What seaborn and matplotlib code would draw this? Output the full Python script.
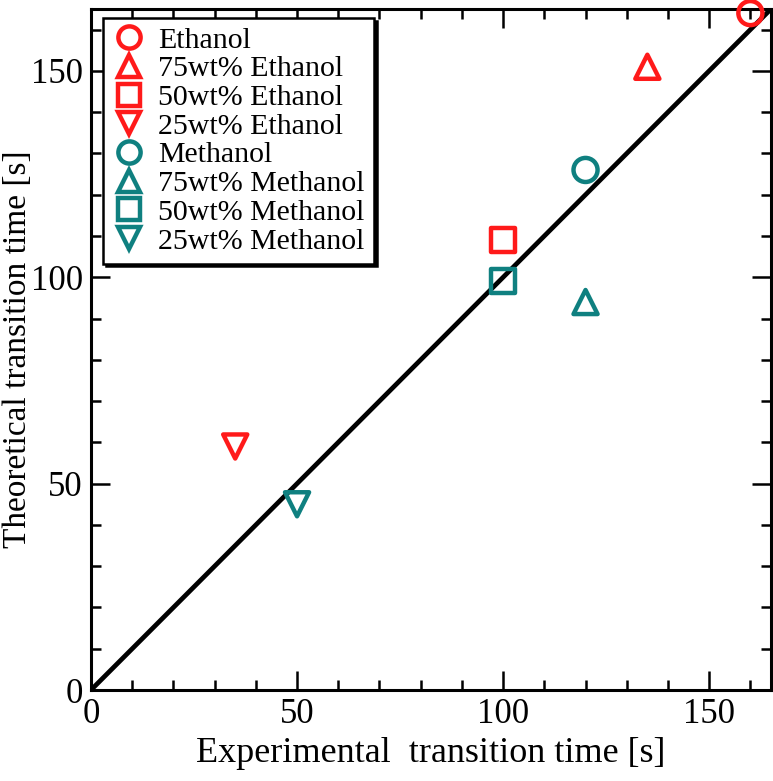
import numpy as np
import pandas as pd
import matplotlib
matplotlib.use('Agg')
import matplotlib.pyplot as plt
from matplotlib.lines import Line2D
from matplotlib.ticker import MultipleLocator
import seaborn as sns

# données
labels = ['Ethanol', '75wt% Ethanol', '50wt% Ethanol', '25wt% Ethanol',
          'Methanol', '75wt% Methanol', '50wt% Methanol', '25wt% Methanol']
experimental = [160, 135, 100, 35, 120, 120, 100, 50]
theoretical = [164, 151, 109, 59, 126, 94, 99, 45]
marker_list = ['o', '^', 's', 'v', 'o', '^', 's', 'v']
color_list = ['#ff1a1a'] * 4 + ['#0f8080'] * 4

df = pd.DataFrame({'label': labels, 'exp': experimental, 'theo': theoretical})

sns.set_style('ticks')
plt.rcParams['font.family'] = ['Liberation Serif', 'DejaVu Serif']
plt.rcParams['text.color'] = 'black'
plt.rcParams['axes.labelcolor'] = 'black'

fig = plt.figure(figsize=(7.73, 7.81), dpi=100)
ax = fig.add_axes([0.1177, 0.1165, 0.8797, 0.872])

# droite y = x
diag = np.array([0, 165])
sns.lineplot(x=diag, y=diag, color='black', linewidth=3.4, ax=ax, zorder=2)

sns.scatterplot(data=df, x='exp', y='theo', hue='label', style='label',
                palette=dict(zip(labels, color_list)),
                markers=dict(zip(labels, marker_list)),
                s=300, linewidth=3.2, legend=False, ax=ax, zorder=3, clip_on=False)

# marqueurs creux
coll = ax.collections[-1]
fc = coll.get_facecolors()
coll.set_edgecolors(fc)
coll.set_facecolors('none')

ax.set_xlim(0, 165)
ax.set_ylim(0, 165)
ax.xaxis.set_major_locator(MultipleLocator(50))
ax.yaxis.set_major_locator(MultipleLocator(50))
ax.xaxis.set_minor_locator(MultipleLocator(10))
ax.yaxis.set_minor_locator(MultipleLocator(10))
ax.tick_params(which='both', direction='in', top=True, right=True,
               width=1.8, labelsize=25, colors='black')
ax.tick_params(which='major', length=14, pad=6)
ax.tick_params(which='minor', length=7)
for sp in ax.spines.values():
    sp.set_linewidth(2.2)
    sp.set_color('black')

ax.set_xlabel('Experimental  transition time [s]', fontsize=26, labelpad=4)
ax.set_ylabel('Theoretical transition time [s]', fontsize=24)
ax.yaxis.set_label_coords(-0.086, 0.5)

handles = [Line2D([], [], linestyle='none', marker=m, markersize=16,
                  markerfacecolor='none', markeredgecolor=c, markeredgewidth=3.2)
           for m, c in zip(marker_list, color_list)]
leg = ax.legend(handles, labels, loc='upper left', bbox_to_anchor=(0.018, 0.987),
                fontsize=21.5, frameon=True, fancybox=False,
                shadow={'color': 'black', 'alpha': 1},
                labelspacing=0.06, handletextpad=0.45, handlelength=1.1,
                borderpad=0.3, borderaxespad=0)
leg.get_frame().set_edgecolor('black')
leg.get_frame().set_linewidth(1.8)
leg.get_frame().set_alpha(1)

plt.savefig('out.png', dpi=100)
